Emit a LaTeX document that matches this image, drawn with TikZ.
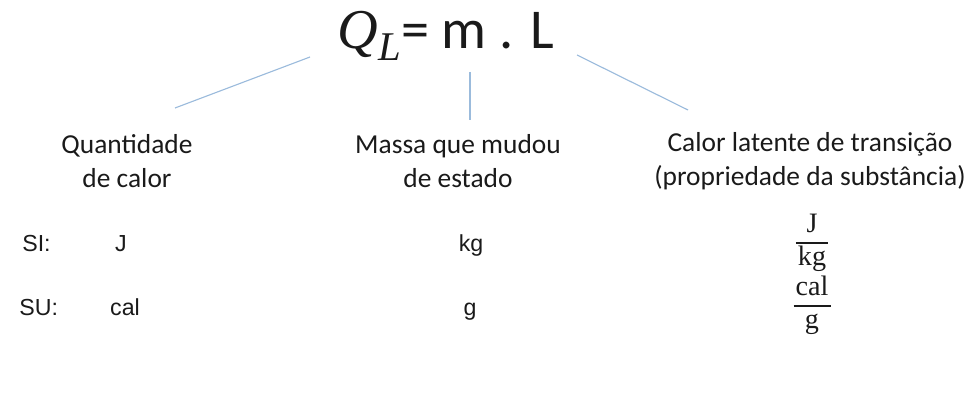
\documentclass[tikz,border=0pt]{standalone}
\usepackage{fontspec}
\setmainfont{Carlito}
\newfontfamily\arialfont{Liberation Sans}
\newfontfamily\cambriafont{Liberation Serif}
\usepackage{xcolor}
\usepackage{tikz}
\usetikzlibrary{positioning}
\definecolor{calorBlue}{HTML}{9BBBDC}
\definecolor{calorInk}{HTML}{1A1A1A}
\newcommand{\unitratio}[2]{{\setlength\arrayrulewidth{1.6pt}\renewcommand{\arraystretch}{.92}%
  \begin{tabular}{@{\hspace{1.5pt}}c@{\hspace{1.5pt}}}#1\\\hline #2\end{tabular}}}

\begin{document}
\begin{tikzpicture}[
  x=0.025cm, y=-0.025cm,
  formula/.style={font=\fontsize{40}{44}\selectfont, text=calorInk, inner sep=0pt},
  meaning/.style={font=\fontsize{19.5}{24}\selectfont, align=center, text=calorInk, inner sep=0pt},
  unit/.style={font=\arialfont\fontsize{16.5}{19}\selectfont, text=calorInk, inner sep=0pt, anchor=base},
  ratio/.style={font=\cambriafont\fontsize{20}{24}\selectfont, text=calorInk, inner sep=0pt},
  link/.style={draw=calorBlue, line width=.8pt}
]
  \useasboundingbox (0,0) rectangle (979,412);

  % formula
  \node[formula, anchor=base] (formula) at (446,49)
    {{\cambriafont\itshape Q\raisebox{-.2em}{\fontsize{29}{30}\selectfont L}}= m . L};

  % meanings
  \node[meaning] (heat) at (127,161) {Quantidade\\de calor};
  \node[meaning] (mass) at (458,161) {Massa que mudou\\de estado};
  \node[meaning] (latent) at (810,161) {Calor latente de transição\\(propriedade da substância)};

  \coordinate (heatTop) at (175,108);
  \coordinate (massTop) at (470,120);
  \coordinate (latentTop) at (688,110);
  \coordinate (qEnd) at (310,57);
  \coordinate (mEnd) at (470,72);
  \coordinate (lEnd) at (577,55);
  \draw[link] (qEnd) -- (heatTop);
  \draw[link] (mEnd) -- (massTop);
  \draw[link] (lEnd) -- (latentTop);

  % units
  \node[unit, anchor=base west] (si) at (22,251) {SI:};
  \node[unit] (siQ) at (121,251) {J};
  \node[unit] (siM) at (471,251) {kg};
  \node[ratio] (siL) at (812,243) {\unitratio{J}{kg}};

  \node[unit, anchor=base west] (su) at (19,315) {SU:};
  \node[unit] (suQ) at (125,315) {cal};
  \node[unit] (suM) at (470,315) {g};
  \node[ratio] (suL) at (812,306) {\unitratio{cal}{g}};
\end{tikzpicture}
\end{document}
